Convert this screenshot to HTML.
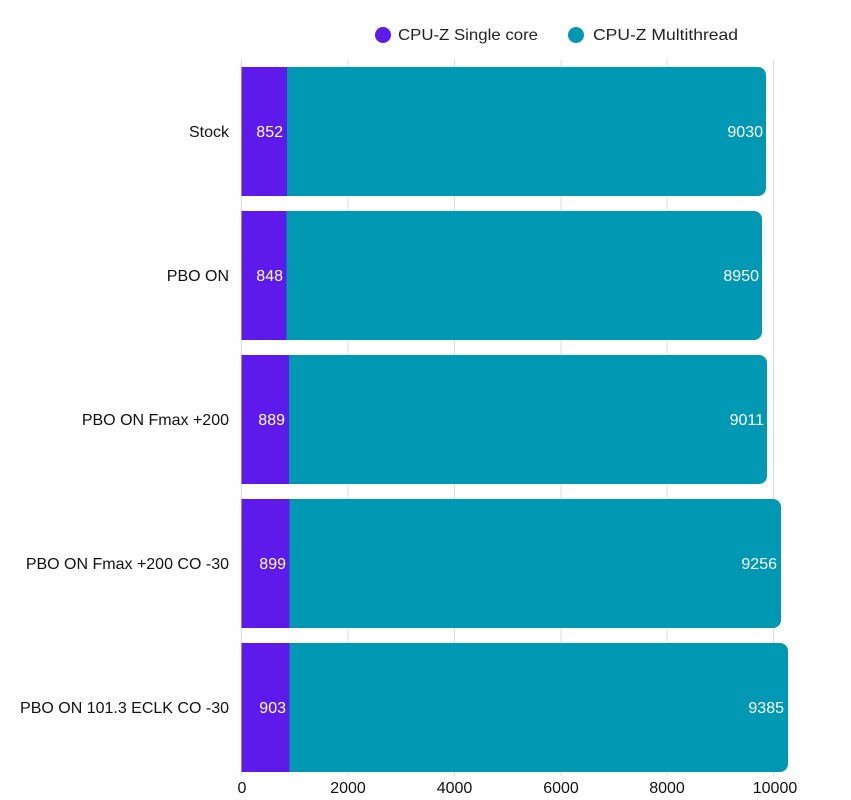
<!DOCTYPE html>
<html><head><meta charset="utf-8"><style>
html,body{margin:0;padding:0;background:#fff}
svg{display:block;font-family:"Liberation Sans",sans-serif}
</style></head><body>
<svg width="851" height="800" viewBox="0 0 851 800">
<g stroke="#dcdcdc" stroke-width="1">
<line x1="348" y1="60" x2="348" y2="776"/>
<line x1="454.5" y1="60" x2="454.5" y2="776"/>
<line x1="561" y1="60" x2="561" y2="776"/>
<line x1="667" y1="60" x2="667" y2="776"/>
<line x1="773.5" y1="60" x2="773.5" y2="776"/>
<line x1="241.5" y1="60" x2="241.5" y2="776"/>
</g>
<circle cx="383" cy="35" r="8" fill="#5e1aea"/>
<text x="398" y="40" font-size="16" fill="#222" textLength="140" lengthAdjust="spacingAndGlyphs">CPU-Z Single core</text>
<circle cx="576" cy="35" r="8" fill="#0098b3"/>
<text x="593" y="40" font-size="16" fill="#222" textLength="145" lengthAdjust="spacingAndGlyphs">CPU-Z Multithread</text>
<g font-size="16" fill="#111" text-anchor="end">
<text x="229" y="137">Stock</text>
<text x="229" y="281">PBO ON</text>
<text x="229" y="425">PBO ON Fmax +200</text>
<text x="229" y="569">PBO ON Fmax +200 CO -30</text>
<text x="229" y="713">PBO ON 101.3 ECLK CO -30</text>
</g>
<g id="bars">
<path d="M287 67 H758 a8 8 0 0 1 8 8 V188 a8 8 0 0 1 -8 8 H287Z" fill="#0098b3"/>
<rect x="241.5" y="67" width="45.5" height="129" fill="#5e1aea"/>
<path d="M286.5 211 H754 a8 8 0 0 1 8 8 V332 a8 8 0 0 1 -8 8 H286.5Z" fill="#0098b3"/>
<rect x="241.5" y="211" width="45" height="129" fill="#5e1aea"/>
<path d="M289 355 H759 a8 8 0 0 1 8 8 V476 a8 8 0 0 1 -8 8 H289Z" fill="#0098b3"/>
<rect x="241.5" y="355" width="47.5" height="129" fill="#5e1aea"/>
<path d="M289.5 499 H773 a8 8 0 0 1 8 8 V620 a8 8 0 0 1 -8 8 H289.5Z" fill="#0098b3"/>
<rect x="241.5" y="499" width="48" height="129" fill="#5e1aea"/>
<path d="M289.5 643 H780 a8 8 0 0 1 8 8 V764 a8 8 0 0 1 -8 8 H289.5Z" fill="#0098b3"/>
<rect x="241.5" y="643" width="48" height="129" fill="#5e1aea"/>
</g>
<g font-size="16" fill="#fff" text-anchor="end">
<text x="283" y="137">852</text><text x="763" y="137">9030</text>
<text x="283" y="281">848</text><text x="759" y="281">8950</text>
<text x="285" y="425">889</text><text x="764" y="425">9011</text>
<text x="286" y="569">899</text><text x="777" y="569">9256</text>
<text x="286" y="713">903</text><text x="784" y="713">9385</text>
</g>
<g font-size="16" fill="#111" text-anchor="middle">
<text x="242" y="793">0</text>
<text x="348" y="793">2000</text>
<text x="454.5" y="793">4000</text>
<text x="561" y="793">6000</text>
<text x="667" y="793">8000</text>
<text x="775" y="793">10000</text>
</g>
</svg>
</body></html>
